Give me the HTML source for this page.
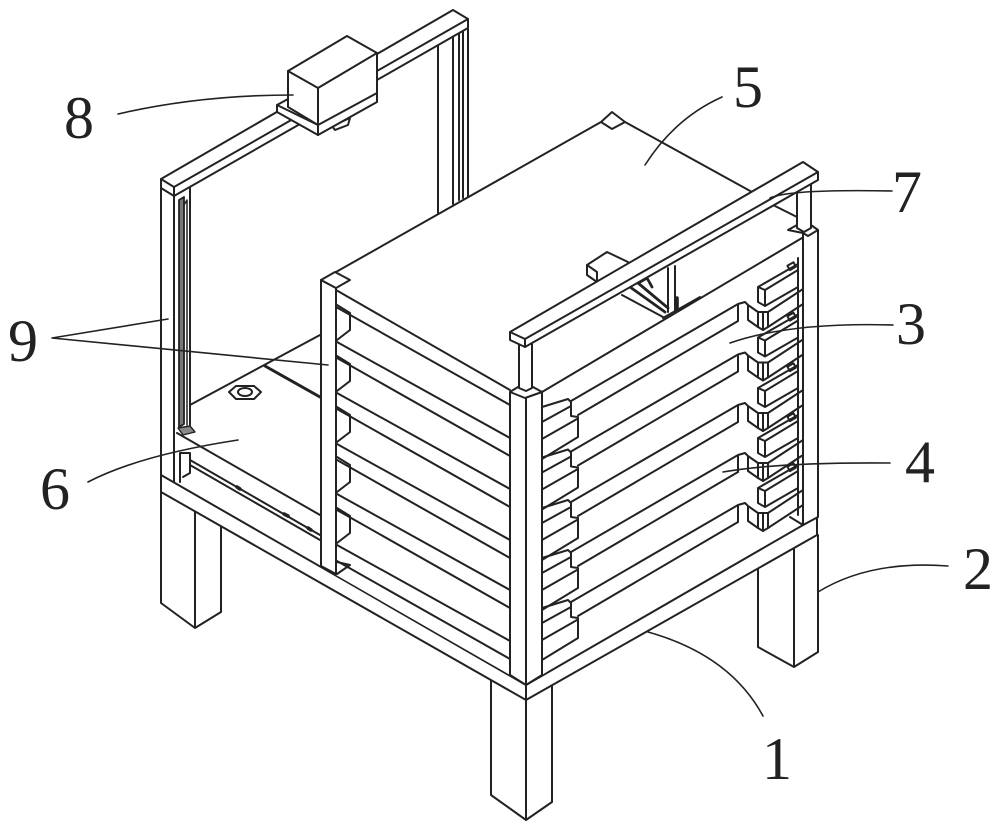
<!DOCTYPE html>
<html><head><meta charset="utf-8"><style>
html,body{margin:0;padding:0;background:#fff}
svg{display:block}
text{font-family:"Liberation Serif",serif;font-size:60px;fill:#222}
</style></head><body>
<svg width="1000" height="830" viewBox="0 0 1000 830" xmlns="http://www.w3.org/2000/svg">
<defs>
<g id="rs">
<path d="M571 602L738 505M578 616L738 522M738 505V522M748 506V521M738 505L745 503L748 506L758 513M748 521L758 528"/>
<path fill="#fff" d="M758 513H768V528L763 531L758 528Z"/>
<path d="M763 513V531"/>
<path d="M768 513L803 490M768 528L803 505"/>
<path d="M758 488L798 465M758 488V503L765 507V491L758 488M765 491L798 471M765 507L798 488"/>
<rect x="788" y="465" width="7" height="5" transform="rotate(-30 791 467)"/>
<path d="M542 608L568 600L571 603V617L578 618V638L542 660M542 623L571 607M542 640L577 620"/>
</g>
<g id="ls">
<path d="M337 342L510 438M337 358L510 456M337 340L350 330V313L337 305"/>
</g>
</defs>
<g fill="none" stroke="#222" stroke-width="2" stroke-linejoin="round" stroke-linecap="round">
<!-- back right post -->
<path d="M438 45V213M453 37V204M468 28V197M459 34V200M463 32V198"/>
<!-- floor 6 -->
<path fill="#fff" stroke="none" d="M190 405L320 335V515L177 433Z"/>
<path d="M190 405L320 335M177 433L320 515"/>
<path stroke-width="3" d="M265 366L320 397"/>
<path d="M190 460L320 535M190 465L320 540"/>
<path stroke-width="3.5" d="M237 487L240 489M284 514L288 516M308 528L311 530"/>
<path fill="#888" stroke-width="1.4" d="M178 428L190 426L195 432L183 435Z"/>
<path d="M229 392L236 386H254L261 392L254 399H236Z"/>
<ellipse cx="245" cy="392" rx="7" ry="4"/>
<!-- back left post -->
<path d="M161 188V475M174 196V482M180 482V453M190 188V425M180 453H190V473L183 477"/>
<path fill="#777" stroke-width="1.8" d="M179 200L184 197V424L179 427Z"/>
<path d="M184 205L187 200V425" stroke-width="1.5"/>
<!-- beam -->
<path fill="#fff" d="M161 179L453 10L468 19V28L174 196L161 188Z"/>
<path d="M161 179L174 187L468 19M174 187V196"/>
<!-- box -->
<path fill="#fff" d="M332 126L350 118L348 125L335 130Z"/>
<path fill="#fff" d="M277 105L288 99L377 93V102L318 135L277 112Z"/>
<path d="M277 105L318 125V135"/>
<path fill="#fff" d="M288 71L347 36L377 53V93L318 125L288 107Z"/>
<path d="M288 71L318 88L377 53M318 88V125"/>
<!-- legs -->
<path fill="#fff" d="M161 490V603L195 628L221 612V525Z" stroke="none"/>
<path d="M161 490V603L195 628L221 612V527M195 512V628"/>
<path fill="#fff" d="M758 560V647L794 667L818 652V535Z" stroke="none"/>
<path d="M758 568V647L794 667L818 652V535M794 548V667"/>
<path fill="#fff" d="M491 680V795L526 820L552 802V685Z" stroke="none"/>
<path d="M491 680V795L526 820L552 802V686M526 700V820"/>
<!-- base -->
<path fill="#fff" d="M161 475L526 685L817 517V535L526 700L161 492Z"/>
<path d="M526 685V700"/>
<!-- top plate -->
<path fill="#fff" stroke="none" d="M336 290L336 272L601 122L612 112L625 122L797 217V240L675 312L542 392H510Z"/>
<path d="M336 272L601 122L612 112L625 122L752 192M773 205L797 217M601 122L612 129L625 122"/>
<!-- left side -->
<path fill="#fff" stroke="none" d="M336 290L510 390V675L336 575Z"/>
<path d="M336 290L510 390"/>
<use href="#ls"/>
<use href="#ls" transform="translate(0,51)"/>
<use href="#ls" transform="translate(0,102)"/>
<use href="#ls" transform="translate(0,152)"/>
<use href="#ls" transform="translate(0,203)"/>
<path d="M336 307L510 405M337 574L350 565L337 562"/>
<!-- left post -->
<path fill="#fff" d="M321 280V566L336 574V288Z"/>
<path fill="#fff" d="M321 280L335 272L350 280L336 288Z"/>
<!-- right side -->
<path fill="#fff" stroke="none" d="M542 392L803 238V505L542 675Z"/>
<path d="M542 392L802 238"/>
<use href="#rs" transform="translate(0,-201)"/>
<use href="#rs" transform="translate(0,-150.5)"/>
<use href="#rs" transform="translate(0,-100)"/>
<use href="#rs" transform="translate(0,-50)"/>
<use href="#rs"/>
<path d="M798 258V515M790 517L803 525"/>
<!-- mechanism -->
<path fill="#fff" d="M587 265L607 252L628 262V275L597 282L587 275Z"/>
<path d="M587 265L597 272V282"/>
<path fill="#fff" stroke="none" d="M622 295L640 270L683 258L676 312L663 318Z"/>
<path d="M622 295L663 317M668 268V312M675 266V312M663 318L700 297"/>
<path stroke-width="2.8" d="M630 287L665 312M638 283L668 308M640 282L647 278L652 287"/>
<path stroke-width="3.6" d="M677 298V310"/>
<!-- right post -->
<path fill="#fff" d="M803 233L818 230V517L803 525Z"/>
<path fill="#fff" d="M788 230L797 225H811L818 230L808 236L803 233Z"/>
<path fill="#fff" d="M797 183V228L804 232L811 228V178Z"/>
<!-- corner post -->
<path fill="#fff" d="M510 392L518 387H533L542 392V675L526 685L510 675Z"/>
<path d="M510 392L525 398L542 392M526 398V685"/>
<path fill="#fff" d="M519 345V388L526 391L532 388V340Z"/>
<!-- rail -->
<path fill="#fff" d="M510 332L803 162L818 172V180L525 347L510 340Z"/>
<path d="M510 332L525 339L818 172M525 339V347"/>
<!-- leaders -->
<g stroke-width="1.6">
<path d="M118 114Q200 95 293 95"/>
<path d="M645 165Q675 118 722 97"/>
<path d="M770 198Q790 189 892 191"/>
<path d="M730 343Q790 322 893 325"/>
<path d="M723 472Q780 462 890 463"/>
<path d="M818 592Q870 560 948 566"/>
<path d="M648 632Q730 655 763 716"/>
<path d="M52 338L168 319M52 338L328 365"/>
<path d="M88 482Q140 455 238 440"/>
</g>
</g>
<text x="64" y="138">8</text>
<text x="733" y="107">5</text>
<text x="892" y="212">7</text>
<text x="896" y="344">3</text>
<text x="905" y="482">4</text>
<text x="963" y="589">2</text>
<text x="762" y="779">1</text>
<text x="40" y="509">6</text>
<text x="8" y="361">9</text>
</svg>
</body></html>
